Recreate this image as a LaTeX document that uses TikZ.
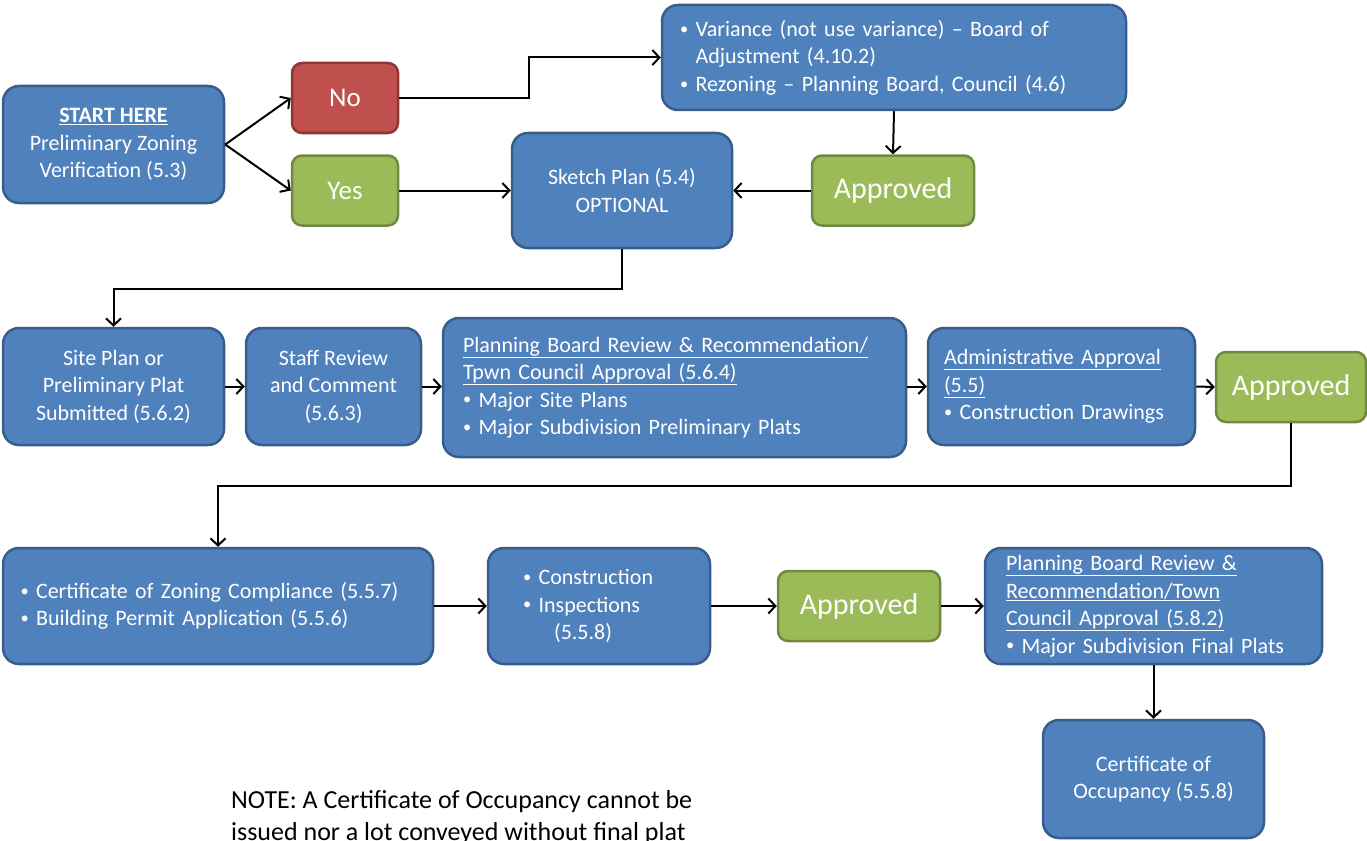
\documentclass[tikz,border=0pt]{standalone}
\usepackage{fontspec}
\setmainfont{Carlito}
\usetikzlibrary{arrows.meta}

\definecolor{boxblue}{RGB}{79,129,189}
\definecolor{boxblueline}{RGB}{56,93,138}
\definecolor{boxred}{RGB}{192,80,77}
\definecolor{boxredline}{RGB}{140,56,54}
\definecolor{boxgreen}{RGB}{155,187,89}
\definecolor{boxgreenline}{RGB}{113,137,63}

\newcommand{\bul}{\raisebox{0.2ex}{\scalebox{0.75}{\textbullet}}\ }

\tikzset{
  bluebox/.style={draw=boxblueline, fill=boxblue, line width=2.5pt, rounded corners=16pt,
    text=white, inner sep=0pt, align=center, font=\fontsize{22}{27.5}\selectfont},
  listbox/.style={bluebox, align=left},
  greenbox/.style={draw=boxgreenline, fill=boxgreen, line width=2.5pt, rounded corners=10pt,
    text=white, inner sep=0pt, minimum width=162pt, minimum height=70pt,
    font=\fontsize{30}{36}\selectfont},
  answer/.style={line width=2.5pt, rounded corners=10pt, text=white, inner sep=0pt,
    minimum width=106pt, minimum height=70pt, font=\fontsize{27}{32}\selectfont},
  arr/.style={line width=2pt, -{Straight Barb[length=7pt,width=15pt]}}
}

\begin{document}
\begin{tikzpicture}[x=1pt,y=1pt,yscale=-1]
\useasboundingbox (0,0) rectangle (1367,840);
\clip (0,0) rectangle (1367,840);

% first row
\node[bluebox, minimum width=221pt, minimum height=117pt] (start) at (113.5,144.5)
  {\underline{\textbf{START HERE}}\\Preliminary Zoning\\Verification (5.3)};
\node[answer, draw=boxredline, fill=boxred] (no) at (345,98) {No};
\node[answer, draw=boxgreenline, fill=boxgreen] (yes) at (345,190.5) {Yes};
\node[listbox, minimum width=464pt, minimum height=105pt, text width=428pt] (variance) at (894,57.5)
  {\bul Variance (not use variance) -- Board of\\
   \hphantom{\bul}Adjustment (4.10.2)\\
   \bul Rezoning -- Planning Board, Council (4.6)};
\node[bluebox, minimum width=220pt, minimum height=115pt] (sketch) at (622,190.5)
  {Sketch Plan (5.4)\\OPTIONAL};
\node[greenbox] (approvedA) at (893,190.5) {Approved};

% second row
\node[bluebox, minimum width=221pt, minimum height=117pt] (siteplan) at (113.5,386.5)
  {Site Plan or\\Preliminary Plat\\Submitted (5.6.2)};
\node[bluebox, minimum width=175pt, minimum height=117pt] (staff) at (333.5,386.5)
  {Staff Review\\and Comment\\(5.6.3)};
\node[listbox, minimum width=463pt, minimum height=139pt, text width=423pt] (boardA) at (674.5,387.5)
  {\underline{Planning Board Review \& Recommendation/}\\
   \underline{Tpwn Council Approval (5.6.4)}\\
   \bul Major Site Plans\\
   \bul Major Subdivision Preliminary Plats};
\node[listbox, minimum width=267pt, minimum height=117pt, text width=235pt] (admin) at (1061.5,386.5)
  {\underline{Administrative Approval}\\
   \underline{(5.5)}\\
   \bul Construction Drawings};
\node[greenbox, minimum width=150pt] (approvedB) at (1291,387) {Approved};

% third row
\node[listbox, minimum width=430pt, minimum height=116pt, text width=395pt] (zoning) at (218,606)
  {\bul Certificate of Zoning Compliance (5.5.7)\\
   \bul Building Permit Application (5.5.6)};
\node[listbox, minimum width=222pt, minimum height=116pt, text width=152pt] (construct) at (599,606)
  {\bul Construction\\
   \bul Inspections\\
   \hphantom{\bul\bul}(5.5.8)};
\node[greenbox] (approvedC) at (859,606) {Approved};
\node[listbox, minimum width=337pt, minimum height=116pt, text width=295pt] (boardB) at (1153.5,606)
  {\underline{Planning Board Review \&}\\
   \underline{Recommendation/Town}\\
   \underline{Council Approval (5.8.2)}\\
   \bul Major Subdivision Final Plats};
\node[bluebox, minimum width=221pt, minimum height=118pt] (occupancy) at (1153.5,779)
  {Certificate of\\Occupancy (5.5.8)};

% note (last line runs off the page)
\node[anchor=base west, inner sep=0pt, align=left, font=\fontsize{26}{32}\selectfont] (note) at (231,840)
  {NOTE: A Certificate of Occupancy cannot be\\issued nor a lot conveyed without final plat};

% connectors
\draw[arr] (start.east) -- (no.west);
\draw[arr] (start.east) -- (yes.west);
\draw[arr] (no.east) -- ++(130,0) |- (variance.west);
\draw[arr] (yes.east) -- (sketch.west);
\draw[arr] (variance.south) -- (approvedA.north);
\draw[arr] (approvedA.west) -- (sketch.east);
\draw[arr] (sketch.south) -- ++(0,40) -| (siteplan.north);
\draw[arr] (siteplan.east) -- (staff.west);
\draw[arr] (staff.east) -- (staff.east -| boardA.west);
\draw[arr] (boardA.east |- admin.west) -- (admin.west);
\draw[arr] (admin.east) -- (approvedB.west);
\draw[arr] (approvedB.south) -- ++(0,63) -| (zoning.north);
\draw[arr] (zoning.east) -- (construct.west);
\draw[arr] (construct.east) -- (approvedC.west);
\draw[arr] (approvedC.east) -- (boardB.west);
\draw[arr] (boardB.south) -- (occupancy.north);
\end{tikzpicture}
\end{document}
